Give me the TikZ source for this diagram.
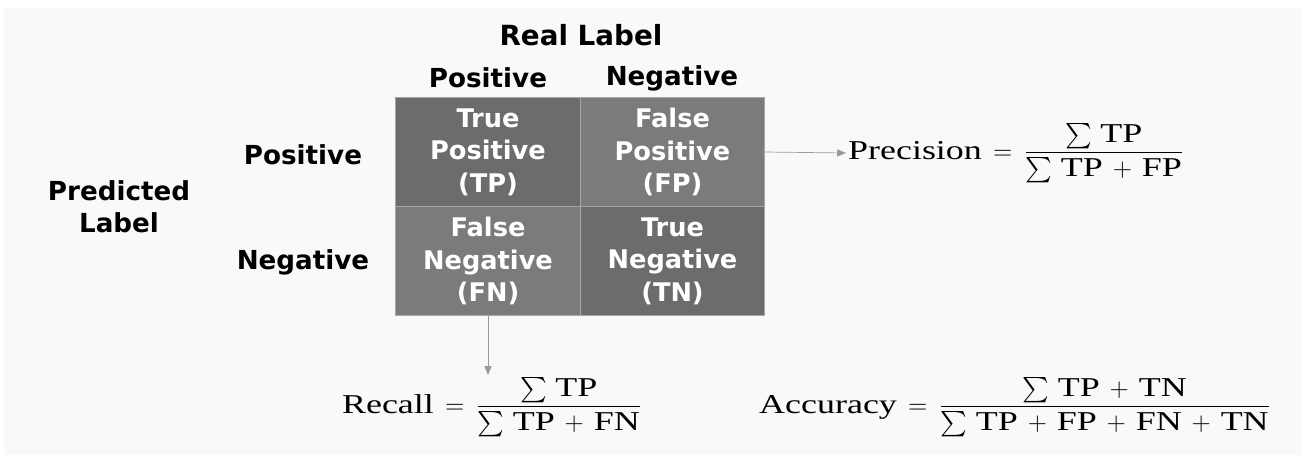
\documentclass[tikz,border=0pt]{standalone}
\usepackage{amsmath}
\usepackage{fontspec}
\newfontfamily\labelfont{DejaVu Sans}
\newfontfamily\formulafont{Liberation Serif}[FakeStretch=1.32]
\newcommand{\ft}[1]{\text{\formulafont #1}}
\thickmuskip=8mu plus 5mu\relax
\medmuskip=7mu plus 2mu minus 4mu\relax
\usetikzlibrary{arrows.meta}
\definecolor{bgcol}{HTML}{F9F9F9}
\definecolor{darkcell}{HTML}{6C6C6C}
\definecolor{lightcell}{HTML}{7B7B7B}
\definecolor{arrowcol}{HTML}{9A9A9A}
\begin{document}
\begin{tikzpicture}[
        x=0.2mm, y=-0.2mm,
        cell/.style={
            draw=gray!70,
            thin,
            minimum width=36.9mm,
            minimum height=21.8mm,
            inner sep=0pt,
            align=center,
            text=white,
            font=\labelfont\bfseries\fontsize{14.6}{18.4}\selectfont
        },
        head/.style={
            align=center,
            inner sep=0pt,
            font=\labelfont\bfseries\fontsize{14.9}{18.4}\selectfont
        },
        formula/.style={
            inner sep=1pt,
            font=\formulafont\fontsize{15.5}{19}\selectfont
        },
        link/.style={
            draw=arrowcol,
            thin,
            -{Triangle[length=5pt,width=4pt]}
        }
    ]

    % Hintergrund
    \useasboundingbox (0,0) rectangle (1302,455);
    \fill[bgcol] (4,8) rectangle (1302,455);

    % Matrix
    \node[cell, fill=darkcell]  (tp) at (488,152)   {True\\Positive\\(TP)};
    \node[cell, fill=lightcell] (fp) at (672.5,152) {False\\Positive\\(FP)};
    \node[cell, fill=lightcell] (fn) at (488,261)   {False\\Negative\\(FN)};
    \node[cell, fill=darkcell]  (tn) at (672.5,261) {True\\Negative\\(TN)};

    % Beschriftungen
    \node[head, font=\labelfont\bfseries\fontsize{15.8}{19}\selectfont] (real) at (581,35) {Real Label};
    \node[head] (colpos) at (488,78)  {Positive};
    \node[head] (colneg) at (672,78)  {Negative};
    \node[head] (rowpos) at (303,155) {Positive};
    \node[head] (rowneg) at (303,262) {Negative};
    \node[head] (pred)   at (119,207) {Predicted\\Label};

    % Formeln
    \node[formula, anchor=west] (prec) at (846,153)
        {$\ft{Precision} = \dfrac{\sum\,\ft{TP}}{\sum\,\ft{TP} + \ft{FP}}$};
    \node[formula] (rec) at (492,407)
        {$\ft{Recall} = \dfrac{\sum\,\ft{TP}}{\sum\,\ft{TP} + \ft{FN}}$};
    \node[formula] (acc) at (1015,407)
        {$\ft{Accuracy} = \dfrac{\sum\,\ft{TP} + \ft{TN}}{\sum\,\ft{TP} + \ft{FP} + \ft{FN} + \ft{TN}}$};

    % Pfeile
    \draw[link] (fp.east) -- (prec.west);
    \draw[link] (fn.south) -- (fn.south |- rec.north);

    \end{tikzpicture}
\end{document}
